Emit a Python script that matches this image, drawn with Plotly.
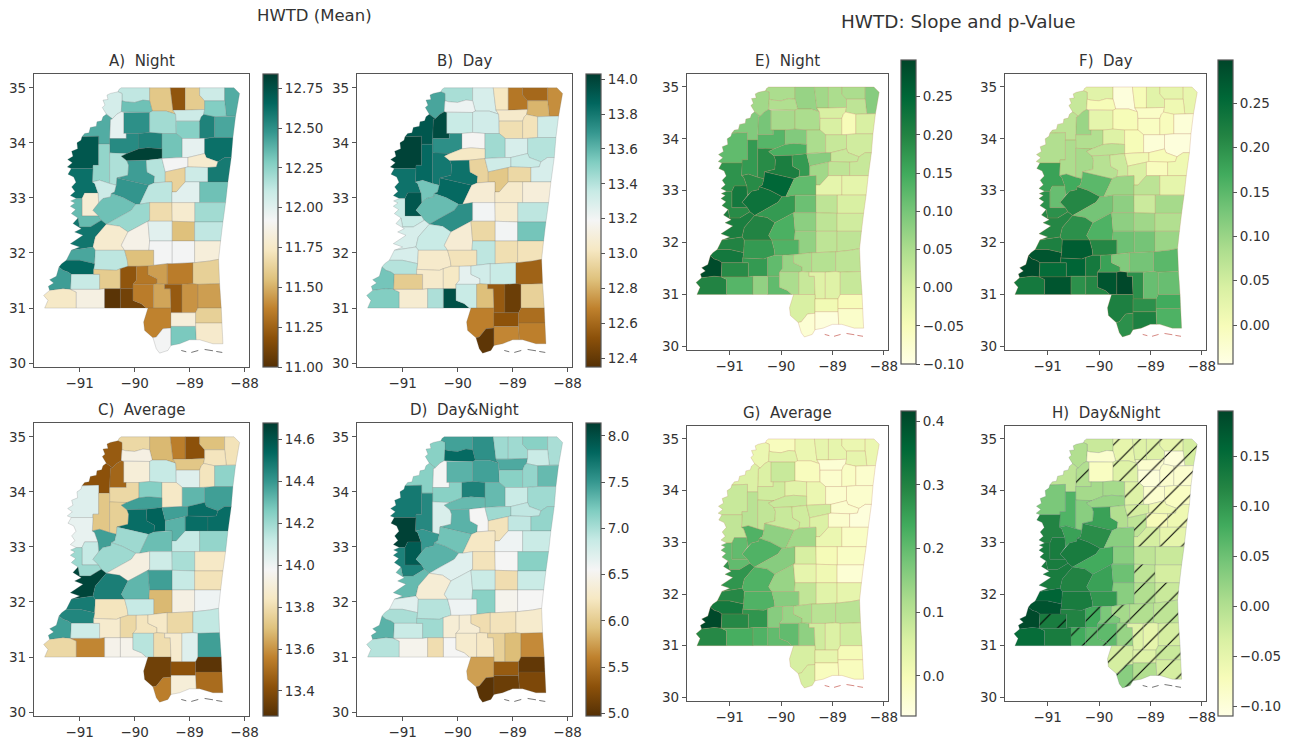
import plotly.graph_objects as go
from plotly.colors import sample_colorscale

# County outlines, in survey units of 1/165 degree. Unit 240 east = 91W, unit 113 south = 35N.
OUTLINES = {
"DeSoto": [(358,118),(365,113),(450,113),(450,152),(430,150),(405,157),(378,155),(367,152),(367,130),(355,125)],
"Tunica": [(355,125),(367,130),(367,152),(365,185),(352,192),(338,206),(328,198),(320,192),(308,172),(316,165),(310,150),(325,148),(322,135),(332,130)],
"Marshall": [(450,113),(512,113),(520,180),(528,192),(500,183),(458,183),(450,152)],
"Benton": [(512,113),(557,113),(557,180),(520,180)],
"Tippah": [(557,113),(600,113),(600,135),(615,152),(615,178),(557,180)],
"Alcorn": [(600,113),(675,113),(675,152),(615,152),(600,135)],
"Tishomingo": [(675,113),(703,113),(720,130),(708,198),(680,198),(675,152)],
"Tate": [(367,152),(378,155),(405,157),(430,150),(450,152),(458,183),(450,187),(372,187),(365,185)],
"Panola": [(372,187),(450,187),(450,247),(418,250),(380,250),(372,250)],
"Lafayette": [(450,187),(458,183),(500,183),(528,192),(530,250),(487,250),(450,247)],
"Union": [(528,192),(520,180),(557,180),(615,178),(612,193),(605,200),(600,213),(530,213)],
"Pontotoc": [(530,213),(600,213),(600,265),(548,265),(530,250)],
"Prentiss": [(615,152),(675,152),(680,198),(645,200),(612,193),(615,178)],
"Lee": [(612,193),(645,200),(645,262),(600,265),(600,213),(605,200)],
"Itawamba": [(645,200),(680,198),(708,198),(700,262),(645,262)],
"Quitman": [(332,208),(338,206),(352,192),(365,185),(372,187),(372,250),(380,250),(380,265),(330,265)],
"Coahoma": [(338,206),(332,208),(330,265),(330,282),(297,282),(297,258),(247,260),(255,250),(268,248),(272,232),(290,228),(292,215),(306,212),(310,200),(320,192)],
"Tallahatchie": [(330,265),(380,265),(380,250),(418,250),(418,296),(382,310),(355,310),(330,308)],
"Yalobusha": [(418,250),(450,247),(487,250),(487,296),(445,293),(418,296)],
"Calhoun": [(487,250),(530,250),(548,265),(548,322),(530,322),(487,325),(487,296)],
"Chickasaw": [(548,265),(600,265),(615,265),(615,310),(585,318),(565,322),(548,322)],
"Monroe": [(615,265),(645,262),(700,262),(695,322),(675,322),(655,335),(620,322),(615,310)],
"Bolivar": [(247,260),(297,258),(297,345),(280,345),(280,355),(215,355),(203,350),(218,338),(204,328),(220,318),(216,303),(234,296),(232,278),(244,270)],
"Sunflower": [(297,282),(330,282),(330,308),(330,400),(300,390),(278,395),(280,345),(297,345)],
"Leflore": [(330,308),(355,310),(382,310),(365,318),(382,332),(387,345),(385,375),(352,383),(350,405),(330,400)],
"Grenada": [(382,310),(418,296),(445,293),(487,296),(487,325),(440,330),(382,332),(365,318)],
"Carroll": [(382,332),(440,330),(442,365),(465,378),(463,398),(447,405),(352,383),(385,375),(387,345)],
"Montgomery": [(440,330),(487,325),(497,365),(497,395),(463,398),(465,378),(442,365)],
"Webster": [(487,325),(530,322),(548,322),(565,322),(565,350),(557,352),(497,365)],
"Clay": [(565,322),(585,318),(615,310),(620,322),(655,335),(650,350),(625,352),(565,350)],
"Choctaw": [(497,365),(557,352),(557,395),(530,425),(517,425),(517,395),(497,395)],
"Oktibbeha": [(557,352),(565,350),(625,352),(625,395),(600,395),(557,395)],
"Lowndes": [(625,352),(650,350),(655,335),(675,322),(695,322),(685,395),(625,395)],
"Washington": [(215,355),(280,355),(278,395),(285,400),(295,428),(255,428),(247,445),(230,445),(212,436),(226,424),(216,410),(229,396),(222,380),(205,372)],
"Humphreys": [(278,395),(300,390),(330,400),(350,405),(345,425),(335,430),(333,440),(310,445),(297,458),(295,428),(285,400)],
"Holmes": [(352,383),(447,405),(420,462),(408,462),(370,442),(335,430),(345,425),(350,405)],
"Attala": [(463,398),(497,395),(517,395),(517,425),(517,457),(450,457),(420,462),(447,405)],
"Winston": [(517,425),(530,425),(557,395),(600,395),(600,457),(517,457)],
"Noxubee": [(600,395),(685,395),(678,457),(600,457)],
"Kemper": [(585,457),(600,457),(678,457),(670,515),(585,515)],
"Sharkey": [(255,428),(295,428),(297,458),(280,480),(297,497),(247,497),(247,445)],
"Issaquena": [(230,445),(247,445),(247,497),(297,497),(305,510),(272,530),(240,530),(235,503),(215,490),(228,478),(212,468),(226,458),(213,452)],
"Yazoo": [(335,430),(370,442),(408,462),(395,480),(350,505),(320,522),(305,510),(297,497),(280,480),(297,458),(310,445),(333,440)],
"Madison": [(408,462),(420,462),(450,457),(450,510),(445,513),(415,530),(385,545),(360,528),(320,522),(350,505),(395,480)],
"Leake": [(450,457),(517,457),(518,513),(445,513),(450,510)],
"Neshoba": [(517,457),(585,457),(585,515),(518,513)],
"Warren": [(235,503),(240,530),(272,530),(305,510),(320,522),(287,560),(280,590),(215,600),(240,590),(212,580),(250,555),(225,545),(245,535),(220,520)],
"Hinds": [(320,522),(360,528),(385,545),(365,585),(375,600),(287,600),(280,590),(287,560)],
"Rankin": [(385,545),(415,530),(445,513),(450,572),(448,600),(375,600),(365,585)],
"Scott": [(445,513),(518,513),(518,572),(450,572)],
"Newton": [(518,513),(585,515),(585,572),(518,572)],
"Lauderdale": [(585,515),(670,515),(663,572),(585,572)],
"Smith": [(450,572),(518,572),(518,640),(503,640),(462,645),(462,600),(448,600)],
"Jasper": [(518,572),(585,572),(585,637),(518,640)],
"Clarke": [(585,572),(663,572),(657,627),(630,632),(585,637)],
"Claiborne": [(215,600),(280,590),(287,600),(285,640),(240,630),(200,630)],
"Copiah": [(287,600),(375,600),(383,630),(385,648),(362,655),(350,660),(282,657),(285,640)],
"Simpson": [(375,600),(448,600),(462,600),(462,645),(445,647),(410,648),(385,648),(383,630)],
"Jefferson": [(200,630),(240,630),(285,640),(282,657),(282,672),(215,672),(205,665),(190,660),(178,650),(186,640)],
"Adams": [(178,650),(190,660),(205,665),(215,672),(213,717),(190,715),(150,720),(146,708),(162,698),(150,688),(170,678)],
"Franklin": [(215,672),(282,672),(300,672),(300,717),(213,717)],
"Lincoln": [(282,657),(350,660),(362,655),(362,715),(315,715),(300,717),(300,672),(282,672)],
"Lawrence": [(362,655),(385,648),(410,648),(410,690),(400,702),(400,715),(362,715)],
"Jeff Davis": [(410,648),(445,647),(445,672),(472,685),(472,700),(462,702),(400,702),(410,690)],
"Covington": [(445,647),(462,645),(503,640),(503,702),(495,702),(472,700),(472,685),(445,672)],
"Jones": [(503,640),(518,640),(580,637),(580,700),(547,702),(503,702)],
"Wayne": [(580,637),(585,637),(630,632),(657,627),(660,700),(595,702),(580,700)],
"Walthall": [(362,715),(400,715),(400,750),(425,760),(440,773),(362,773)],
"Marion": [(400,702),(462,702),(462,773),(440,773),(425,760),(400,750)],
"Lamar": [(462,702),(472,700),(495,702),(495,715),(512,715),(514,773),(462,773)],
"Forrest": [(495,702),(547,702),(547,787),(514,787),(514,773),(512,715),(495,715)],
"Perry": [(547,702),(580,700),(595,702),(595,773),(588,787),(547,787)],
"Greene": [(595,702),(660,700),(665,773),(595,773)],
"Pearl River": [(445,773),(514,773),(514,787),(514,833),(490,835),(470,860),(460,862),(435,840),(432,815)],
"Stone": [(514,787),(547,787),(588,787),(588,828),(514,828)],
"George": [(595,773),(665,773),(667,818),(588,818),(588,787)],
"Hancock": [(460,862),(470,860),(490,835),(514,833),(514,885),(505,900),(480,908),(470,895)],
"Harrison": [(514,828),(588,828),(590,868),(570,868),(540,880),(514,885)],
"Jackson": [(588,818),(667,818),(670,880),(640,880),(600,868),(590,868)],
"Wilkinson": [(150,720),(190,715),(213,717),(230,725),(230,773),(135,773),(145,750),(132,735)],
"Amite": [(230,725),(213,717),(300,717),(315,715),(315,773),(230,773)],
"Pike": [(315,715),(362,715),(362,773),(315,773)],
}
ISLANDS = [[(545,900),(560,904)], [(575,906),(596,900)], [(615,897),(640,901)], [(650,903),(668,906)]]

NIGHT_MEAN = [12.12,12.05,11.58,11.2,11.6,12.08,12.4,12.33,12.5,12.2,
 12.08,12.27,12.28,12.55,12.42,11.98,12.4,12.52,12.55,12.32,
 11.98,12.62,12.72,12.24,12.17,12.82,12.45,12.15,11.93,11.78,
 11.63,12.08,12.58,12.62,12.08,12.48,12.13,12.0,12.33,12.2,
 11.8,12.35,12.33,12.22,11.68,11.78,12.6,11.78,11.87,12.0,
 11.55,12.12,11.93,11.93,11.82,12.42,12.13,11.55,12.65,12.45,
 12.1,11.6,11.2,11.33,11.45,11.35,11.62,11.1,11.35,11.47,
 11.22,11.42,11.45,11.37,11.82,11.62,11.93,12.3,11.77,11.75,
 11.85,11.02]
DAY_MEAN = [13.43,13.65,13.3,13.02,12.65,12.6,12.72,13.22,13.35,13.32,
 13.05,12.98,12.82,13.0,13.33,13.97,13.92,13.72,13.18,13.45,
 13.3,13.4,14.0,13.85,13.8,13.03,13.82,12.93,13.33,13.35,
 12.88,12.95,13.3,13.82,13.55,13.85,13.08,13.05,13.1,13.38,
 13.92,13.35,13.58,13.72,13.2,13.07,13.3,13.35,13.08,12.95,
 13.2,13.55,13.38,12.98,13.0,13.3,13.05,13.0,13.4,13.55,
 12.9,13.05,13.03,13.25,13.32,13.35,12.58,13.95,13.35,12.85,
 12.55,12.42,12.92,12.68,12.52,12.62,12.38,12.7,12.68,13.52,
 13.07,13.42]
AVERAGE_MEAN = [13.78,13.45,13.68,13.55,13.42,13.7,13.82,13.93,13.9,14.12,
 13.72,14.05,13.83,13.83,14.23,13.48,13.42,13.78,14.25,13.85,
 14.32,14.38,14.05,13.72,13.75,14.38,14.52,14.55,14.38,14.52,
 14.33,14.52,14.52,14.02,14.38,14.2,14.3,14.12,14.22,13.85,
 14.12,14.2,14.2,13.92,14.1,14.18,14.65,14.47,14.32,14.38,
 14.12,13.82,13.68,13.93,14.0,14.48,13.83,14.12,14.45,14.38,
 14.1,13.87,13.78,13.83,13.85,13.78,14.13,13.95,14.15,13.8,
 13.87,14.05,14.38,13.35,13.42,13.3,13.55,13.9,13.5,13.78,
 13.57,13.95]
DAYNIGHT_MEAN = [7.45,7.15,7.55,7.05,7.05,7.15,7.0,7.8,7.35,7.45,
 7.4,7.15,6.85,7.1,7.3,6.55,7.15,7.15,7.65,7.3,
 6.85,7.05,7.7,7.6,6.75,7.3,7.35,6.55,7.05,6.9,
 6.2,6.9,7.1,8.1,7.5,7.25,6.25,6.6,6.85,7.15,
 7.9,7.65,7.35,6.7,6.2,6.55,7.3,6.35,6.75,6.85,
 6.15,6.85,7.15,6.5,6.55,6.7,6.95,6.6,7.0,7.35,
 6.85,7.05,6.35,6.35,6.15,6.2,6.3,6.55,6.3,6.25,
 6.05,5.9,5.65,5.75,5.35,5.05,5.0,5.1,5.2,6.95,
 6.5,6.15]
NIGHT_SLOPE = [0.05,0.06,0.07,0.06,0.05,0.05,0.085,0.045,0.055,0.05,
 0.0,0.0,0.03,-0.05,0.0,0.1,0.09,0.13,0.09,0.05,
 0.02,0.01,0.12,0.17,0.19,0.14,0.21,0.17,0.085,0.02,
 0.06,0.03,0.02,0.18,0.19,0.25,0.12,-0.02,-0.02,0.0,
 0.22,0.19,0.23,0.17,0.11,0.03,0.21,0.2,0.14,0.08,
 0.03,0.01,0.075,0.03,0.03,0.2,0.17,0.135,0.22,0.29,
 0.19,0.17,0.12,0.07,0.05,0.04,0.03,0.12,0.05,0.02,
 -0.01,-0.01,0.02,0.0,-0.04,-0.05,-0.08,-0.09,-0.07,0.2,
 0.13,0.075]
DAY_SLOPE = [0.03,0.06,-0.035,0.0,0.03,0.025,0.02,0.0,0.025,0.0,
 -0.015,-0.01,0.01,-0.005,-0.03,0.1,0.07,0.08,0.035,0.0,
 -0.03,-0.035,0.08,0.085,0.09,0.07,0.075,0.055,0.01,0.0,
 0.04,-0.005,0.01,0.18,0.17,0.15,0.1,0.07,0.025,0.09,
 0.14,0.2,0.21,0.13,0.11,0.055,0.21,0.2,0.16,0.11,
 0.095,0.08,0.135,0.13,0.1,0.22,0.27,0.21,0.28,0.29,
 0.25,0.26,0.23,0.18,0.12,0.13,0.15,0.21,0.28,0.295,
 0.2,0.14,0.14,0.22,0.2,0.17,0.2,0.22,0.16,0.23,
 0.28,0.2]
AVERAGE_SLOPE = [-0.01,0.02,0.02,0.03,0.03,0.02,0.02,0.04,0.08,-0.01,
 -0.04,-0.03,0.03,-0.02,-0.03,0.05,0.05,0.07,0.04,0.02,
 -0.03,-0.03,0.08,0.1,0.09,0.08,0.08,0.07,0.07,-0.03,
 0.05,-0.03,-0.05,0.09,0.22,0.15,0.13,0.02,-0.02,-0.02,
 0.2,0.2,0.22,0.16,0.06,0.0,0.27,0.22,0.14,0.03,
 0.01,-0.04,0.09,0.04,0.03,0.29,0.22,0.16,0.32,0.41,
 0.29,0.27,0.16,0.14,0.12,0.1,0.1,0.2,0.2,0.15,
 0.07,0.05,0.07,0.06,0.03,0.0,0.06,-0.01,-0.01,0.29,
 0.23,0.22]
DAYNIGHT_SLOPE = [-0.02,0.0,-0.05,-0.04,-0.04,-0.05,-0.03,-0.09,-0.08,-0.04,
 -0.09,-0.1,-0.1,-0.09,-0.09,0.0,-0.01,0.01,0.01,-0.04,
 -0.09,-0.08,0.04,0.07,0.03,0.02,0.09,0.0,-0.03,-0.06,
 -0.01,-0.07,-0.06,0.12,0.09,0.11,0.03,-0.03,-0.05,-0.02,
 0.13,0.13,0.13,0.08,0.03,-0.01,0.13,0.12,0.09,0.05,
 -0.01,-0.03,0.03,0.0,-0.02,0.16,0.13,0.1,0.18,0.19,
 0.13,0.12,0.08,0.04,0.01,0.0,-0.01,0.06,0.06,0.02,
 -0.04,-0.05,-0.03,-0.03,-0.04,-0.02,0.03,0.0,-0.03,0.15,
 0.13,0.08]
NOT_SIGNIFICANT = {"Marshall","Benton","Tippah","Alcorn","Tishomingo","Lafayette","Union","Pontotoc","Prentiss","Lee",
 "Itawamba","Quitman","Calhoun","Chickasaw","Monroe","Webster","Clay","Choctaw","Oktibbeha","Lowndes","Winston","Noxubee",
 "Newton","Jasper","Clarke","Jones","Wayne","Covington","Jeff Davis","Lawrence","Franklin","Pike","Walthall","Marion",
 "Lamar","Forrest","Perry","Greene","Pearl River","Stone","George","Hancock","Harrison","Jackson"}

PANELS = [
 dict(title="A)  Night", vals=NIGHT_MEAN, cs="BrBG", lim=(11.0,12.84), ticks=[11,11.25,11.5,11.75,12,12.25,12.5,12.75], fmt=".2f", box=(34,249,74,367), bar=(263,74,367)),
 dict(title="B)  Day", vals=DAY_MEAN, cs="BrBG", lim=(12.35,14.03), ticks=[12.4,12.6,12.8,13,13.2,13.4,13.6,13.8,14], fmt=".1f", box=(357,572,74,367), bar=(586,74,367)),
 dict(title="C)  Average", vals=AVERAGE_MEAN, cs="BrBG", lim=(13.28,14.68), ticks=[13.4,13.6,13.8,14,14.2,14.4,14.6], fmt=".1f", box=(34,249,423,716), bar=(263,423,716)),
 dict(title="D)  Day&Night", vals=DAYNIGHT_MEAN, cs="BrBG", lim=(4.97,8.14), ticks=[5,5.5,6,6.5,7,7.5,8], fmt=".1f", box=(357,572,423,716), bar=(586,423,716)),
 dict(title="E)  Night", vals=NIGHT_SLOPE, cs="YlGn", lim=(-0.10,0.298), ticks=[-0.1,-0.05,0,0.05,0.1,0.15,0.2,0.25], fmt=".2f", box=(687,888,74,350), bar=(901,60,364)),
 dict(title="F)  Day", vals=DAY_SLOPE, cs="YlGn", lim=(-0.044,0.299), ticks=[0,0.05,0.1,0.15,0.2,0.25], fmt=".2f", box=(1005,1206,74,350), bar=(1218,60,364)),
 dict(title="G)  Average", vals=AVERAGE_SLOPE, cs="YlGn", lim=(-0.063,0.416), ticks=[0,0.1,0.2,0.3,0.4], fmt=".1f", box=(687,888,426,701), bar=(901,411,716)),
 dict(title="H)  Day&Night", vals=DAYNIGHT_SLOPE, cs="YlGn", lim=(-0.11,0.195), ticks=[-0.1,-0.05,0,0.05,0.1,0.15], fmt=".2f", box=(1005,1206,426,701), bar=(1218,411,716), hatch=True),
]

W, H = 1300, 741
INK = "#333333"
FONT = "DejaVu Sans"
def lon(u): return -91 + (u - 240) / 165
def lat(v): return 35 - (v - 113) / 165

fig = go.Figure()
names = list(OUTLINES)
assert all(len(p["vals"]) == len(names) == 82 for p in PANELS)
layout = {}
notes = []
for i, p in enumerate(PANELS, 1):
    ax = "" if i == 1 else str(i)
    x0, x1, y0, y1 = p["box"]
    layout[f"xaxis{ax}"] = dict(domain=[x0/W, x1/W], range=[-91.83,-87.92], anchor=f"y{ax}", tickvals=[-91,-90,-89,-88],
        showgrid=False, zeroline=False, showline=True, mirror=True, linecolor="#555555", linewidth=1.2, ticks="outside", ticklen=4, tickcolor="#555555",
        tickfont=dict(size=13.5, color=INK, family=FONT))
    layout[f"yaxis{ax}"] = dict(domain=[1-y1/H, 1-y0/H], range=[29.93,35.25], anchor=f"x{ax}", tickvals=[30,31,32,33,34,35],
        showgrid=False, zeroline=False, showline=True, mirror=True, linecolor="#555555", linewidth=1.2, ticks="outside", ticklen=4, tickcolor="#555555",
        tickfont=dict(size=13.5, color=INK, family=FONT))
    lo, hi = p["lim"]
    green = p["cs"] == "YlGn"
    edge = "rgba(185,125,85,0.35)" if green and not p.get("hatch") else "rgba(100,100,100,0.30)"
    for name, v in zip(names, p["vals"]):
        pts = OUTLINES[name] + OUTLINES[name][:1]
        col = sample_colorscale(p["cs"], [max(0, min(1, (v-lo)/(hi-lo)))])[0]
        kw = dict(fillcolor=col)
        if p.get("hatch") and name in NOT_SIGNIFICANT:
            kw["fillpattern"] = dict(shape="/", size=15, solidity=0.07, fgcolor="#000000", fgopacity=1, bgcolor=col)
        fig.add_trace(go.Scatter(x=[lon(a) for a, _ in pts], y=[lat(b) for _, b in pts], mode="lines", fill="toself",
            line=dict(color=edge, width=0.7), hoverinfo="skip", showlegend=False, name=name, xaxis=f"x{ax}", yaxis=f"y{ax}", **kw))
    isl = "rgba(190,70,60,0.8)" if green and not p.get("hatch") else "rgba(40,40,40,0.8)"
    for seg in ISLANDS:
        fig.add_trace(go.Scatter(x=[lon(a) for a, _ in seg], y=[lat(b) for _, b in seg], mode="lines", line=dict(color=isl, width=0.8),
            hoverinfo="skip", showlegend=False, xaxis=f"x{ax}", yaxis=f"y{ax}"))
    bx, by0, by1 = p["bar"]
    fig.add_trace(go.Scatter(x=[None], y=[None], mode="markers", hoverinfo="skip", showlegend=False, xaxis=f"x{ax}", yaxis=f"y{ax}",
        marker=dict(color=[lo, hi], cmin=lo, cmax=hi, colorscale=p["cs"], showscale=True,
            colorbar=dict(x=bx/W, xanchor="left", xpad=0, y=1-by1/H, yanchor="bottom", ypad=0, len=(by1-by0)/H, lenmode="fraction",
                thickness=15, thicknessmode="pixels", outlinecolor="#555555", outlinewidth=1.2, ticks="outside", ticklen=4, tickcolor="#555555",
                tickvals=p["ticks"], tickformat=p["fmt"], tickfont=dict(size=13.5, color=INK, family=FONT)))))
    notes.append(dict(text=p["title"], xref="paper", yref="paper", x=(x0+x1)/2/W, y=1-(y0-13)/H, xanchor="center", yanchor="middle",
        showarrow=False, font=dict(size=15, color=INK, family=FONT)))

notes.append(dict(text="HWTD (Mean)", xref="paper", yref="paper", x=314/W, y=1-16/H, xanchor="center", yanchor="middle", showarrow=False, font=dict(size=16.5, color=INK, family=FONT)))
notes.append(dict(text="HWTD: Slope and p-Value", xref="paper", yref="paper", x=958/W, y=1-22/H, xanchor="center", yanchor="middle", showarrow=False, font=dict(size=18.4, color=INK, family=FONT)))

fig.update_layout(width=W, height=H, autosize=False, margin=dict(l=0, r=0, t=0, b=0, autoexpand=False), paper_bgcolor="white", plot_bgcolor="white",
    showlegend=False, annotations=notes, font=dict(family=FONT), **layout)
fig.write_html("out.html", config=dict(displayModeBar=False),
    post_script="document.body.style.margin='0';document.body.style.overflow='hidden';")
